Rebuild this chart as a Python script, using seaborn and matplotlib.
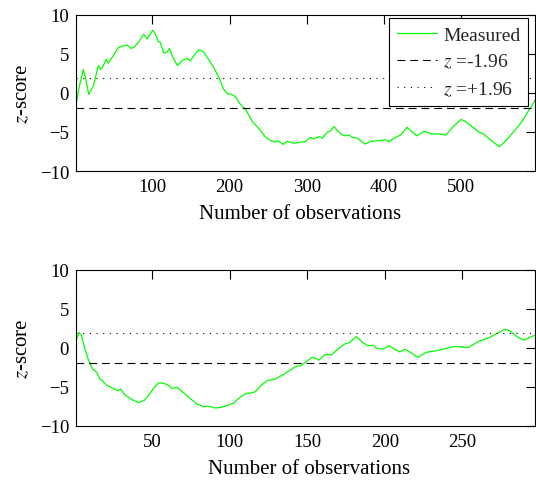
import matplotlib
matplotlib.use("Agg")
import matplotlib.pyplot as plt
import numpy as np
import pandas as pd
import seaborn as sns

# ---- data ----
top_x = [1, 5, 10.5, 13.5, 17.5, 23.5, 30, 33, 36.5, 40, 43, 49.5, 56, 61.5, 67.5, 72, 76, 82,
         88.5, 93, 100.5, 105, 108, 110, 114.5, 119, 122, 126.5, 132.5, 139.5, 144.5, 149, 154,
         160, 166, 172.5, 179, 186, 192, 196.5, 203, 207.5, 213, 220.5, 229, 238, 246, 253,
         259.5, 262, 269.5, 274.5, 283, 292, 298, 305, 309, 315.7, 320, 326.6, 331, 335, 341.6,
         348, 354.6, 359, 365.5, 375, 383, 396, 401, 406.6, 413, 422, 429.6, 437, 442.6, 452,
         460.7, 469.4, 480, 489, 499.7, 506, 515, 523.5, 528, 538.7, 549.5, 560, 577.6, 596]
top_z = [-1.6, 0.7, 3.0, 1.8, -0.2, 0.9, 3.5, 3.0, 3.5, 4.3, 3.8, 4.8, 5.8, 6.0, 6.1, 5.7, 5.8,
         6.5, 7.5, 6.9, 8.0, 7.3, 6.5, 6.5, 5.1, 5.2, 5.7, 4.5, 3.5, 4.2, 4.4, 4.1, 4.8, 5.5, 5.3,
         4.3, 3.3, 2.0, 0.5, -0.1, -0.2, -0.5, -1.35, -2.1, -3.6, -4.6, -5.6, -6.1, -6.3, -6.1,
         -6.6, -6.2, -6.45, -6.3, -6.25, -5.7, -5.9, -5.6, -5.8, -5.05, -4.85, -4.3, -5.05, -5.5,
         -5.4, -5.7, -5.8, -6.55, -6.2, -6.1, -6.0, -6.25, -5.8, -5.35, -4.4, -5.05, -5.5, -4.9,
         -5.25, -5.25, -5.4, -4.4, -3.4, -3.7, -4.4, -5.05, -5.2, -6.1, -6.9, -5.9, -3.8, -0.9]

bot_x = [1, 3, 4.5, 6.7, 8.8, 11.6, 14.2, 16.4, 18, 21, 25, 28.2, 29.7, 32.5, 36.9, 41.2, 44.8,
         47.6, 50.9, 54, 57.3, 60.6, 62.7, 66, 69, 73.5, 79, 83.2, 87.5, 90.7, 95, 99.4, 102.6,
         105.8, 110.8, 113.4, 116.6, 120.3, 124, 129, 134.3, 138.6, 142.9, 146, 149.4, 153.2,
         154.7, 157.5, 160.5, 162.3, 165.5, 169.8, 174, 177.3, 181.6, 185.9, 189, 192.4, 195,
         198.8, 202.7, 206.3, 209.6, 212.8, 216, 221.4, 226.8, 233.2, 239.7, 245, 249.4, 253.7,
         260, 267.6, 273, 277.3, 280.5, 285.9, 290.2, 293.4, 297]
bot_z = [0.95, 2.0, 1.6, -0.1, -1.4, -2.7, -3.1, -4.0, -4.2, -4.8, -5.2, -5.5, -5.25, -6.0, -6.6,
         -7.0, -6.75, -6.1, -5.2, -4.5, -4.5, -4.8, -5.2, -5.05, -5.5, -6.3, -7.2, -7.5, -7.5,
         -7.7, -7.6, -7.3, -7.05, -6.45, -5.8, -5.8, -5.6, -4.8, -4.2, -4.0, -3.45, -2.9, -2.35,
         -2.25, -1.75, -1.2, -1.25, -1.55, -1.0, -0.8, -0.9, -0.15, 0.5, 0.7, 1.45, 0.7, 0.3,
         0.35, -0.05, -0.15, 0.3, -0.15, -0.5, -0.15, -0.5, -1.2, -0.55, -0.35, -0.05, 0.2, 0.15,
         0.05, 0.8, 1.35, 1.95, 2.4, 2.2, 1.35, 1.0, 1.35, 1.65]

thresholds = [-1.96, 1.96]
threshold_labels = ["$z$ =-1.96", "$z$ =+1.96"]
top_xticks = [100, 200, 300, 400, 500]
bot_xticks = [50, 100, 150, 200, 250]
yticks = [-10, -5, 0, 5, 10]

sns.set_theme(style="white")
plt.rcParams['font.family'] = ['Liberation Serif', 'DejaVu Serif']
plt.rcParams['mathtext.fontset'] = 'stix'

fig = plt.figure(figsize=(5.36, 4.81), dpi=100)
ax1 = fig.add_axes([0.1418, 0.6424, 0.857, 0.325])
ax2 = fig.add_axes([0.1418, 0.1123, 0.857, 0.3243])

df_top = pd.DataFrame({"n": top_x, "z": top_z})
df_bot = pd.DataFrame({"n": bot_x, "z": bot_z})

for ax, df, xt, xmax, leg, lx in [(ax1, df_top, top_xticks, 596, True, 0.488),
                                  (ax2, df_bot, bot_xticks, 297, False, 0.507)]:
    sns.lineplot(data=df, x="n", y="z", ax=ax, color="#00ff00", lw=0.9,
                 label="Measured" if leg else None, legend=False)
    ax.axhline(thresholds[0], color="black", lw=0.8, ls=(0, (7, 4.5)),
               label=threshold_labels[0] if leg else None)
    ax.axhline(thresholds[1], color="black", lw=0.8, ls=(0, (1, 5)),
               label=threshold_labels[1] if leg else None)
    ax.set_xlim(1, xmax)
    ax.set_ylim(-10, 10)
    ax.set_xticks(xt)
    ax.set_yticks(yticks)
    ax.tick_params(direction="in", length=6.5, width=0.8, top=True, right=True,
                   labelsize=13.5, pad=5, colors="black")
    for s in ax.spines.values():
        s.set_color("black")
        s.set_linewidth(0.8)
    ax.set_xlabel("Number of observations", fontsize=15, color="black", labelpad=4)
    ax.xaxis.set_label_coords(lx, -0.21)
    ax.set_ylabel("$z$-score", fontsize=15, color="black", labelpad=5)

leg = ax1.legend(loc="upper right", bbox_to_anchor=(1 - 7 / 459, 1 - 3.5 / 156),
                 borderaxespad=0, fontsize=14, frameon=True, fancybox=False,
                 edgecolor="black", framealpha=1, handlelength=2.1, handletextpad=0.3,
                 borderpad=0.4, labelspacing=0.45)
leg.get_frame().set_linewidth(0.8)

fig.savefig("out.png", dpi=100)
